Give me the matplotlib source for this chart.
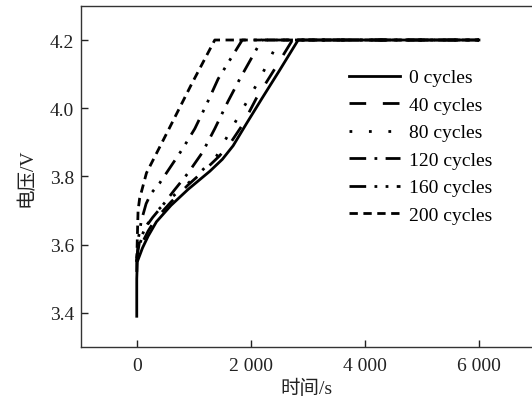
import matplotlib
matplotlib.use('Agg')
import matplotlib.pyplot as plt

plt.rcParams['font.family'] = ['Liberation Serif', 'Noto Sans CJK SC']

# charge curves, time (s) and voltage (V)
t_0 = [0, 0, 10, 100, 200, 345, 600, 900, 1280, 1500, 1690, 1924, 2200, 2500, 2830, 6000]
v_0 = [3.39, 3.50, 3.55, 3.59, 3.625, 3.667, 3.715, 3.762, 3.815, 3.85, 3.89, 3.955, 4.03, 4.11, 4.2, 4.2]

t_40 = [0, 0, 80, 200, 330, 600, 900, 1200, 1450, 1650, 1850, 2100, 2400, 2730, 6000]
v_40 = [3.52, 3.55, 3.60, 3.64, 3.675, 3.725, 3.775, 3.82, 3.86, 3.90, 3.95, 4.03, 4.11, 4.2, 4.2]

t_80 = [0, 50, 150, 300, 550, 800, 1100, 1400, 1661, 1900, 2158, 2495, 6000]
v_80 = [3.55, 3.60, 3.65, 3.69, 3.73, 3.765, 3.81, 3.86, 3.94, 4.01, 4.086, 4.2, 4.2]

t_120 = [0, 50, 150, 280, 430, 660, 900, 1150, 1368, 1600, 1807, 2190, 6000]
v_120 = [3.56, 3.61, 3.65, 3.68, 3.71, 3.76, 3.81, 3.87, 3.94, 4.02, 4.086, 4.2, 4.2]

t_160 = [0, 30, 80, 164, 250, 400, 600, 800, 1018, 1220, 1427, 1850, 6000]
v_160 = [3.55, 3.62, 3.67, 3.72, 3.75, 3.78, 3.83, 3.88, 3.94, 4.01, 4.086, 4.2, 4.2]

t_200 = [0, 10, 23, 50, 82, 170, 579, 959, 1368, 6000]
v_200 = [3.55, 3.62, 3.70, 3.735, 3.755, 3.81, 3.944, 4.07, 4.2, 4.2]

labels = ['0 cycles', '40 cycles', '80 cycles', '120 cycles', '160 cycles', '200 cycles']
xticks = [0, 2000, 4000, 6000]
xticklabels = ['0', '2 000', '4 000', '6 000']
yticks = [3.4, 3.6, 3.8, 4.0, 4.2]

fig = plt.figure(figsize=(5.32, 4.06), dpi=100)
ax = fig.add_axes([0.152, 0.143, 0.848, 0.840])

lw = 2.0
h0, = ax.plot(t_0, v_0, color='black', lw=lw, linestyle='-', zorder=5)
h40, = ax.plot(t_40, v_40, color='black', lw=lw, linestyle=(0, (6, 6)))
h80, = ax.plot(t_80, v_80, color='black', lw=lw, linestyle=(0, (1, 6)))
h120, = ax.plot(t_120, v_120, color='black', lw=lw, linestyle=(0, (6, 3, 1, 3)))
h160, = ax.plot(t_160, v_160, color='black', lw=lw, linestyle=(0, (6, 3, 1, 3, 1, 3)))
h200, = ax.plot(t_200, v_200, color='black', lw=lw, linestyle=(0, (3, 2)))

ax.set_xlim(-980, 6930)
ax.set_ylim(3.3, 4.3)
ax.set_xticks(xticks)
ax.set_xticklabels(xticklabels)
ax.set_yticks(yticks)
ax.set_yticklabels(['%.1f' % y for y in yticks])
ax.tick_params(direction='in', length=5, width=1, labelsize=14, colors='#222222')
ax.tick_params(axis='x', pad=7)
ax.tick_params(axis='y', pad=5)
ax.spines['right'].set_visible(False)
for s in ['left', 'bottom', 'top']:
    ax.spines[s].set_linewidth(1)
    ax.spines[s].set_color('#333333')

ax.set_xlabel('时间/s', fontsize=14, labelpad=4, color='#222222')
ax.set_ylabel('电压/V', fontsize=14, labelpad=10, color='#222222')

ax.legend([h0, h40, h80, h120, h160, h200], labels, loc='upper left',
          bbox_to_anchor=(0.556, 0.867), frameon=False, fontsize=14,
          handlelength=2.6, handletextpad=0.5, labelspacing=0.51)

fig.savefig('out.png', dpi=100)
